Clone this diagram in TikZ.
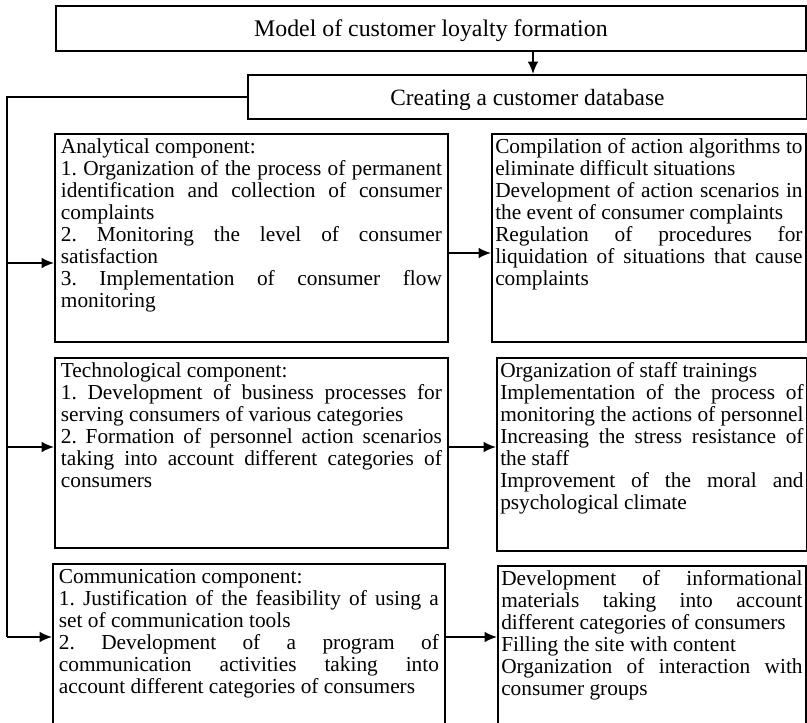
\documentclass[tikz,border=0pt]{standalone}
\usepackage{fontspec}
\setmainfont{Liberation Serif}
\usepackage{tikz}
\usetikzlibrary{arrows.meta}
\frenchspacing
\tikzstyle{int}=[draw, anchor=north west, inner xsep=3.6pt, inner ysep=3pt, font=\fontsize{12.8pt}{13.2pt}\selectfont]
\tikzstyle{res}=[int, inner xsep=2pt]
\tikzstyle{head}=[draw, anchor=north west, text depth=0pt]
\newcommand{\blk}[3]{\begin{minipage}[t][#2][t]{#1}\hyphenpenalty=10000\tolerance=9999 #3\end{minipage}}

\begin{document}
\begin{tikzpicture}[x=0.6pt,y=-0.6pt,line width=1.1pt,>={Latex[length=7.5pt,width=6.5pt]}]
      \useasboundingbox (0,0) rectangle (807,722);
      \clip (0,0) rectangle (807,722);
      \node [head, minimum width=450pt, minimum height=27pt, font=\fontsize{14.3pt}{16pt}\selectfont] (m) at (55,5) {Model of customer loyalty formation};
      \node [head, minimum width=335.4pt, minimum height=26.4pt, font=\fontsize{14pt}{16pt}\selectfont] (db) at (247,74) {Creating a customer database};
      \node [int] (a1) at (54,133) {\blk{228.6pt}{118.8pt}{Analytical component:\par 1. Organization of the process of permanent\linebreak identification and collection of consumer\linebreak complaints\par 2. Monitoring the level of consumer\linebreak satisfaction\par 3. Implementation of consumer flow\linebreak monitoring}};
      \node [res] (r1) at (491,133) {\blk{184.4pt}{118.8pt}{Compilation of action algorithms to\linebreak eliminate difficult situations\par Development of action scenarios in\linebreak the event of consumer complaints\par Regulation of procedures for\linebreak liquidation of situations that cause\linebreak complaints}};
      \node [int] (a2) at (54,357) {\blk{228.6pt}{108pt}{Technological component:\par 1. Development of business processes for\linebreak serving consumers of various categories\par 2. Formation of personnel action scenarios\linebreak taking into account different categories of\linebreak consumers}};
      \node [res] (r2) at (496,357) {\blk{182pt}{109.8pt}{Organization of staff trainings\par Implementation of the process of\linebreak monitoring the actions of personnel\par Increasing the stress resistance of\linebreak the staff\par Improvement of the moral and\linebreak psychological climate}};
      \node [int] (a3) at (52,563) {\blk{228pt}{114pt}{Communication component:\par 1. Justification of the feasibility of using a\linebreak set of communication tools\par 2. Development of a program of\linebreak communication activities taking into\linebreak account different categories of consumers}};
      \node [res] (r3) at (497,565) {\blk{180.8pt}{114pt}{Development of informational\linebreak materials taking into account\linebreak different categories of consumers\par Filling the site with content\par Organization of interaction with\linebreak consumer groups}};
      \coordinate (t) at (533,0);
      \coordinate (p1) at (7,263);
      \coordinate (p2) at (7,447);
      \coordinate (p3) at (7,637);
      \coordinate (q1) at (0,253);
      \draw[->] (t |- m.south) -- (t |- db.north);
      \draw (db.west) -| (p3);
      \draw[->] (p1) -- (p1 -| a1.west);
      \draw[->] (p2) -- (p2 -| a2.west);
      \draw[->] (p3) -- (p3 -| a3.west);
      \draw[->] (q1 -| a1.east) -- (q1 -| r1.west);
      \draw[->] (p2 -| a2.east) -- (p2 -| r2.west);
      \draw[->] (p3 -| a3.east) -- (p3 -| r3.west);
\end{tikzpicture}
\end{document}
